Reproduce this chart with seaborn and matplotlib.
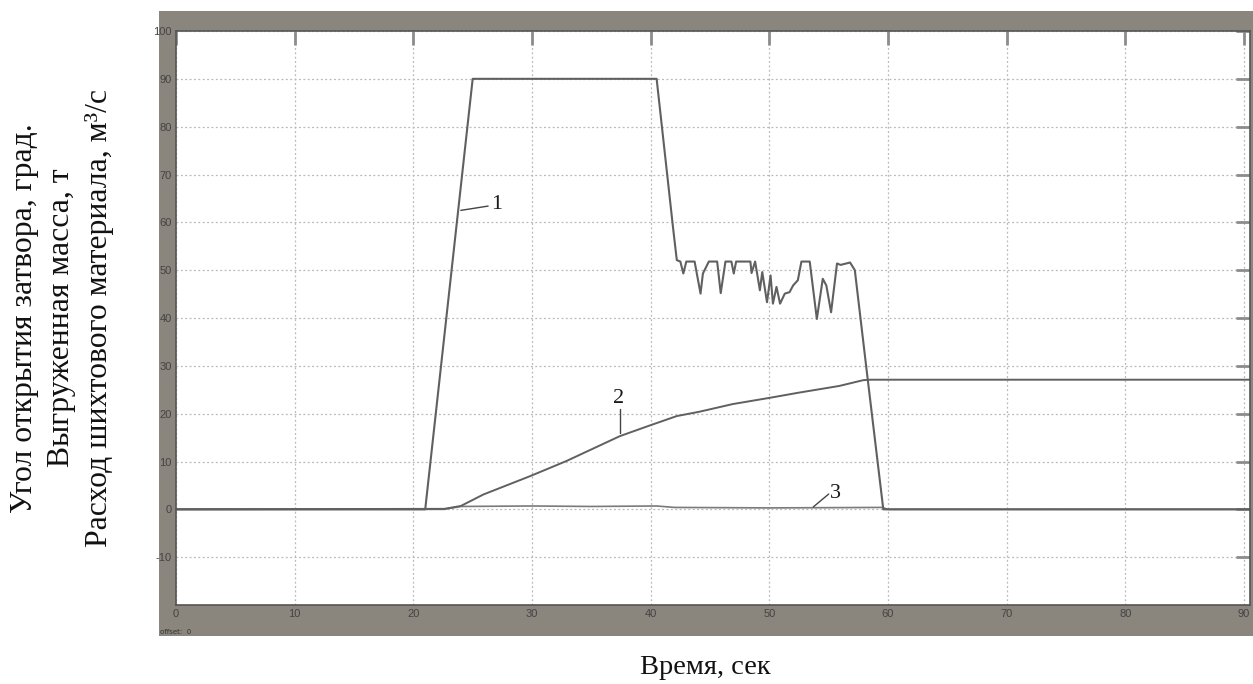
import matplotlib
matplotlib.use("Agg")
import matplotlib.pyplot as plt
import seaborn as sns
import pandas as pd
from matplotlib.patches import Rectangle

# ---- data ----
t_angle = [0, 21.0, 25.0, 40.5, 41.9, 42.2, 42.5, 42.75, 43.0, 43.7, 44.2, 44.4, 44.9, 45.6,
           45.9, 46.3, 46.8, 47.0, 47.2, 48.4, 48.5, 48.8, 49.2, 49.4, 49.8, 50.1, 50.3, 50.6,
           50.9, 51.3, 51.7, 52.0, 52.4, 52.7, 53.4, 54.0, 54.5, 54.8, 55.2, 55.7, 56.0, 56.8,
           57.2, 58.2, 59.6, 90.5]
v_angle = [0, 0, 90, 90, 58.5, 52.1, 51.8, 49.3, 51.8, 51.8, 45.1, 49.3, 51.8, 51.8,
           45.2, 51.8, 51.8, 49.3, 51.8, 51.8, 49.4, 51.8, 45.8, 49.6, 43.3, 48.9, 43.0, 46.5,
           43.0, 45.1, 45.4, 46.8, 47.9, 51.8, 51.8, 39.8, 48.2, 46.8, 41.2, 51.4, 51.1, 51.6,
           50.0, 29.0, 0, 0]

t_mass = [0, 22.6, 24.0, 25.9, 29.9, 32.9, 37.4, 40.0, 42.2, 44.1, 46.9, 50.0, 52.5, 55.9,
          57.9, 58.5, 90.5]
v_mass = [0, 0.1, 0.7, 3.1, 7.0, 10.1, 15.3, 17.6, 19.5, 20.4, 22.0, 23.3, 24.4, 25.8,
          27.0, 27.1, 27.1]

t_flow = [0, 22.6, 24.0, 30.0, 35.0, 40.5, 42.0, 50.0, 55.0, 59.5, 60.0, 90.5]
v_flow = [0, 0, 0.6, 0.7, 0.6, 0.7, 0.4, 0.3, 0.35, 0.4, 0, 0]

x_ticks = [0, 10, 20, 30, 40, 50, 60, 70, 80, 90]
y_ticks = [-10, 0, 10, 20, 30, 40, 50, 60, 70, 80, 90, 100]
y_tick_labels = ["-10", "0", "10", "20", "30", "40", "50", "60", "70", "80", "90", "100"]

curve_labels = ["1", "2", "3"]
label_pos = [(27.0, 63.8), (37.3, 23.2), (55.6, 3.4)]
leader_lines = [((24.0, 62.5), (26.3, 63.4)), ((37.4, 15.9), (37.4, 20.9)), ((53.7, 0.5), (55.0, 3.2))]

y_label_lines = ["Угол открытия затвора, град.", "Выгруженная масса, т",
                 "Расход шихтового материала, м³/с"]
x_label = "Время, сек"

# ---- figure ----
sns.set_style("white")
plt.rcParams['font.family'] = ['DejaVu Sans']

W, H = 1253, 684
fig = plt.figure(figsize=(W / 100, H / 100), dpi=100)
fig.patch.set_facecolor("white")

# grey scope frame
frame = Rectangle((159 / W, 1 - 636 / H), (W - 159) / W, 625 / H,
                  transform=fig.transFigure, facecolor="#8a857d", edgecolor="none", zorder=-10)
fig.patches.append(frame)

ax = fig.add_axes([176 / W, 1 - 605 / H, (1250 - 176) / W, (605 - 31) / H])
ax.set_zorder(5)
ax.set_facecolor("white")

line_color = "#606060"
df1 = pd.DataFrame({"t": t_angle, "v": v_angle})
df2 = pd.DataFrame({"t": t_mass, "v": v_mass})
df3 = pd.DataFrame({"t": t_flow, "v": v_flow})
sns.lineplot(data=df3, x="t", y="v", ax=ax, color="#7a7a7a", lw=1.2, estimator=None, sort=False)
sns.lineplot(data=df2, x="t", y="v", ax=ax, color=line_color, lw=1.4, estimator=None, sort=False)
sns.lineplot(data=df1, x="t", y="v", ax=ax, color=line_color, lw=1.5, estimator=None, sort=False)

ax.set_xlim(0, 90.5)
ax.set_ylim(-20, 100)
ax.set_xticks(x_ticks)
ax.set_xticklabels([str(v) for v in x_ticks])
ax.set_yticks(y_ticks)
ax.set_yticklabels(y_tick_labels)
ax.set_xlabel("")
ax.set_ylabel("")

ax.grid(True, color="#b8b8b8", linestyle=(0, (1.5, 2.0)), linewidth=0.9)
ax.tick_params(axis="both", direction="in", length=10, width=2.0, color="#8c8c8c",
               labelsize=8, labelcolor="#444444", top=True, right=True, pad=3)
for lab in ax.get_xticklabels() + ax.get_yticklabels():
    lab.set_family("Liberation Sans")
for side in ["left", "bottom", "top", "right"]:
    ax.spines[side].set_visible(True)
    ax.spines[side].set_color("#555555")
    ax.spines[side].set_linewidth(1.2)

# curve labels and leaders
for txt, (lx, ly), ((x0, y0), (x1, y1)) in zip(curve_labels, label_pos, leader_lines):
    ax.plot([x0, x1], [y0, y1], color="#444444", lw=1.0)
    ax.text(lx, ly, txt, fontsize=16, family="Liberation Serif", color="#1a1a1a",
            ha="center", va="center")

# axis titles
serif = "Liberation Serif"
for xc, txt in zip([25, 62, 100], y_label_lines):
    fig.text(xc / W, 1 - 318 / H, txt, rotation=90, ha="center", va="center",
             fontsize=22.8, family=serif, color="#111111")
fig.text(705 / W, 1 - 668 / H, x_label, ha="center", va="center",
         fontsize=20.5, family=serif, color="#111111")

fig.text(160 / W, 1 - 632 / H, "offset:  0", fontsize=5, color="#333333", ha="left", va="center")

fig.savefig("out.png", dpi=100, facecolor="white")
